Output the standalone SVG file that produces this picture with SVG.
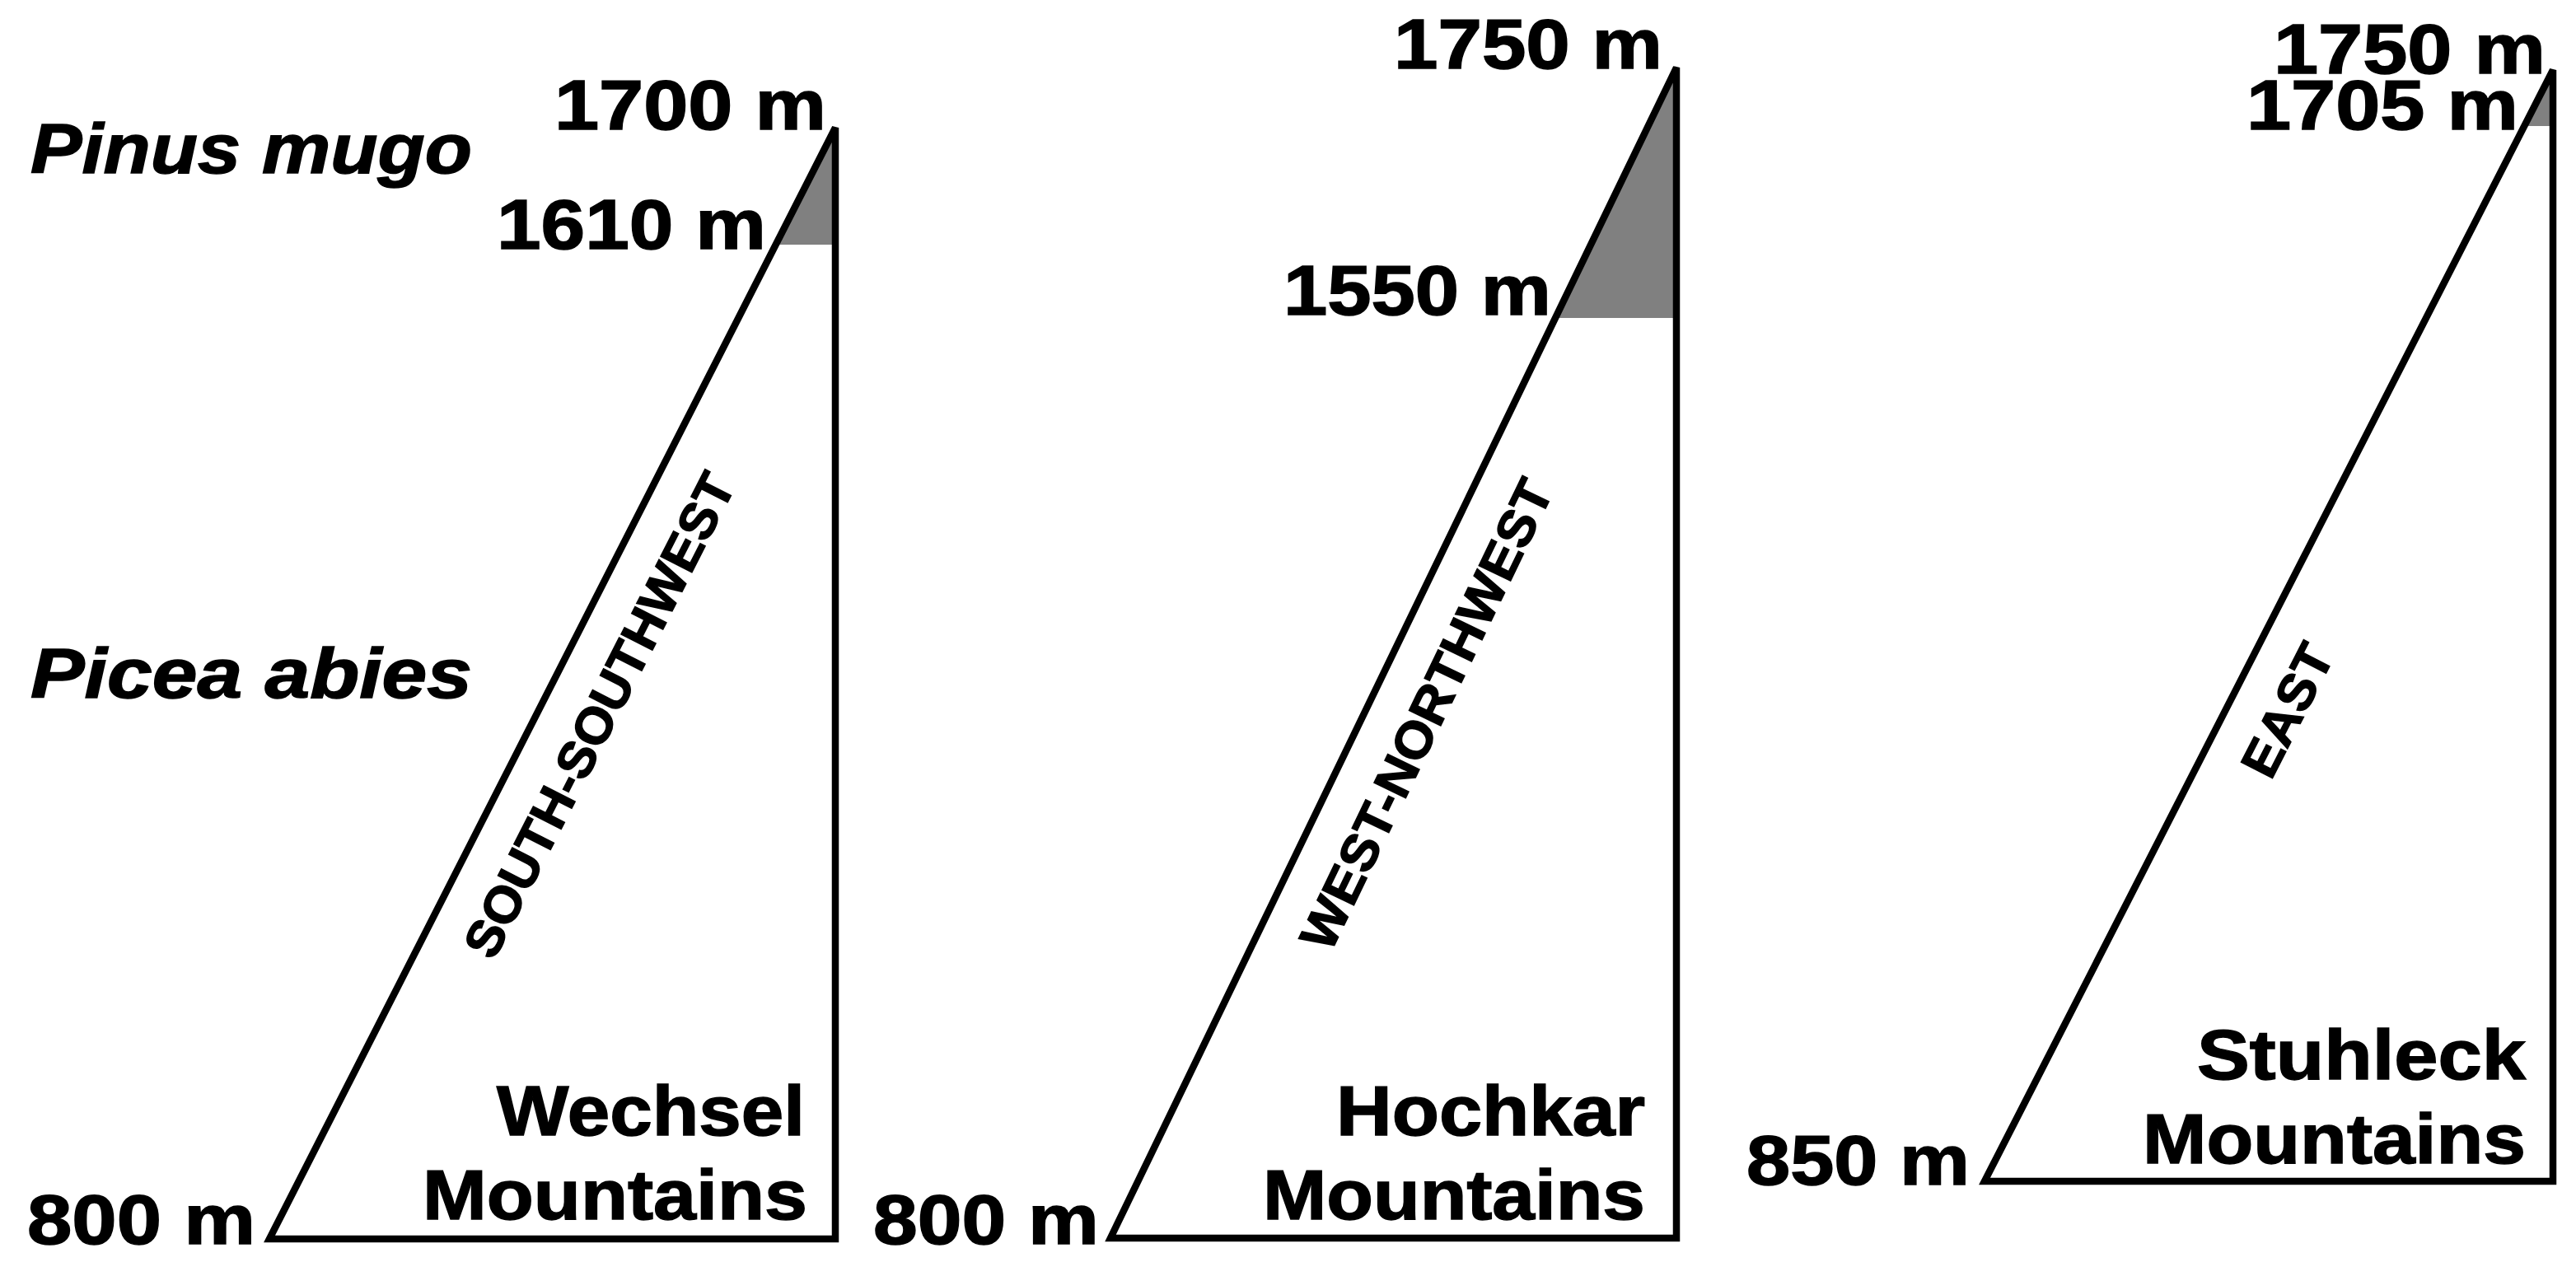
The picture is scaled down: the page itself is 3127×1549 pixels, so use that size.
<svg xmlns="http://www.w3.org/2000/svg" width="3127" height="1549" viewBox="0 0 3127 1549">
<style>
.lbl{font-family:"Liberation Sans",Arial,sans-serif;font-weight:bold;font-size:85px;fill:#000;stroke:#000;stroke-width:1.5}
.sp{font-style:italic}
.dir{font-family:"Liberation Sans",Arial,sans-serif;font-weight:bold;font-size:62px;fill:#000;stroke:#000;stroke-width:1.5}
.tri{fill:none;stroke:#000;stroke-width:8.5;stroke-linejoin:miter}
.shade{fill:#808080;stroke:none}
</style>
<rect width="3127" height="1549" fill="#fff"/>
<g id="species">
<text class="lbl sp" x="37" y="210" textLength="536" lengthAdjust="spacingAndGlyphs">Pinus mugo</text>
<text class="lbl sp" x="37" y="847" textLength="536" lengthAdjust="spacingAndGlyphs">Picea abies</text>
</g>
<g id="wechsel">
<polygon class="shade" points="1014,155 942,297 1014,297"/>
<polygon class="tri" points="1014,155 327,1504 1014,1504"/>
<text class="lbl" x="673" y="157" textLength="330" lengthAdjust="spacingAndGlyphs">1700 m</text>
<text class="lbl" x="603" y="302" textLength="327" lengthAdjust="spacingAndGlyphs">1610 m</text>
<text class="lbl" x="33" y="1510" textLength="277" lengthAdjust="spacingAndGlyphs">800 m</text>
<text class="lbl" x="603" y="1378" textLength="374" lengthAdjust="spacingAndGlyphs">Wechsel</text>
<text class="lbl" x="513" y="1480" textLength="467" lengthAdjust="spacingAndGlyphs">Mountains</text>
<text class="dir" transform="translate(727,868) rotate(-63)" x="0" y="22" text-anchor="middle" textLength="650" lengthAdjust="spacingAndGlyphs">SOUTH-SOUTHWEST</text>
</g>
<g id="hochkar">
<polygon class="shade" points="2035,82 1888,386 2035,386"/>
<polygon class="tri" points="2035,82 1348,1503 2035,1503"/>
<text class="lbl" x="1692" y="83" textLength="326" lengthAdjust="spacingAndGlyphs">1750 m</text>
<text class="lbl" x="1558" y="382" textLength="325" lengthAdjust="spacingAndGlyphs">1550 m</text>
<text class="lbl" x="1060" y="1510" textLength="274" lengthAdjust="spacingAndGlyphs">800 m</text>
<text class="lbl" x="1622" y="1378" textLength="375" lengthAdjust="spacingAndGlyphs">Hochkar</text>
<text class="lbl" x="1533" y="1480" textLength="464" lengthAdjust="spacingAndGlyphs">Mountains</text>
<text class="dir" transform="translate(1731,867) rotate(-64.2)" x="0" y="22" text-anchor="middle" textLength="625" lengthAdjust="spacingAndGlyphs">WEST-NORTHWEST</text>
</g>
<g id="stuhleck">
<polygon class="shade" points="3099,85 3064,153 3099,153"/>
<polygon class="tri" points="3099,85 2409,1434 3099,1434"/>
<text class="lbl" x="2760" y="89" textLength="330" lengthAdjust="spacingAndGlyphs">1750 m</text>
<text class="lbl" x="2727" y="157" textLength="330" lengthAdjust="spacingAndGlyphs">1705 m</text>
<text class="lbl" x="2120" y="1438" textLength="271" lengthAdjust="spacingAndGlyphs">850 m</text>
<text class="lbl" x="2667" y="1310" textLength="399" lengthAdjust="spacingAndGlyphs">Stuhleck</text>
<text class="lbl" x="2601" y="1412" textLength="465" lengthAdjust="spacingAndGlyphs">Mountains</text>
<text class="dir" transform="translate(2776,862) rotate(-62.9)" x="0" y="22" text-anchor="middle" textLength="172" lengthAdjust="spacingAndGlyphs">EAST</text>
</g>
<g id="connectors"></g>
</svg>
